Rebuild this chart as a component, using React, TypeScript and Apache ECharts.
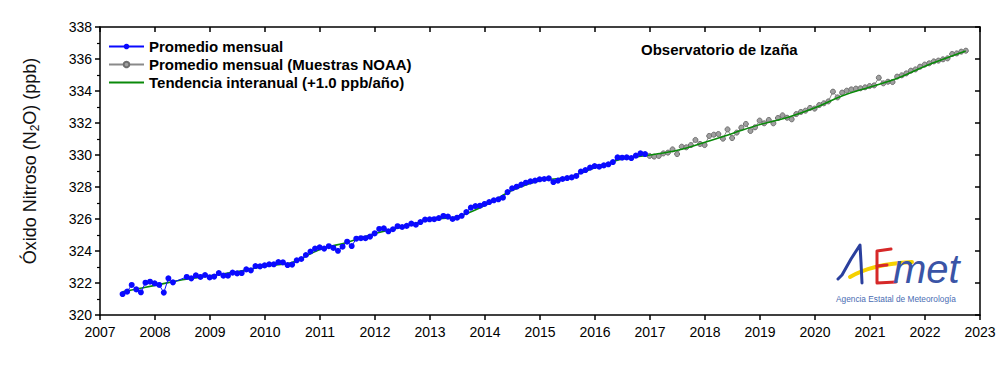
import React, { useEffect, useRef } from "react";
import * as echarts from "echarts";

// ---- Data ----
const xTicks = [2007, 2023];
const yRange = [320, 338];

// Blue: monthly means (first month ~June 2007), one value per month
const blueStart = 2007.41;
const blueValues: (number | null)[] = [
  321.31, 321.46, 321.88, 321.6, 321.42, 322.02, 322.08, 321.98, 321.88, 321.4,
  322.29, 322.04, null, null, 322.38, 322.29, 322.48, 322.38, 322.5, 322.35,
  322.4, 322.62, 322.46, 322.46, 322.65, 322.6, 322.62, 322.85, 322.79, 323.06,
  323.04, 323.1, 323.17, 323.17, 323.31, 323.29, 323.12, 323.15, 323.42, 323.5,
  323.75, 323.97, 324.15, 324.23, 324.15, 324.3, 324.19, 324.01, 324.27, 324.58,
  324.31, 324.77, 324.8, 324.8, 324.9, 325.1, 325.38, 325.42, 325.23, 325.36,
  325.55, 325.5, 325.57, 325.71, 325.64, 325.81, 325.96, 325.98, 325.99, 326.06,
  326.19, 326.15, 326.0, 326.08, 326.2, 326.43, 326.71, 326.81, 326.83, 326.94,
  327.06, 327.17, 327.23, 327.33, 327.68, 327.92, 328.02, 328.15, 328.27, 328.35,
  328.4, 328.48, 328.5, 328.54, 328.31, 328.4, 328.5, 328.56, 328.6, 328.69,
  328.96, 329.06, 329.21, 329.31, 329.27, 329.35, 329.42, 329.56, 329.85, 329.83,
  329.85, 329.81, 329.96, 330.1, 330.06,
];

// Gray: monthly means from NOAA samples (first month ~Jan 2017)
const grayStart = 2016.993;
const grayValues: number[] = [
  329.94, 329.9, 329.94, 330.1, 330.15, 330.35, 330.06, 330.52, 330.48, 330.62,
  330.94, 330.69, 330.62, 331.19, 331.27, 331.31, 331.02, 331.6, 331.06, 331.4,
  331.71, 331.94, 331.5, 331.73, 332.15, 331.98, 332.19, 331.98, 332.31, 332.48,
  332.33, 332.23, 332.56, 332.69, 332.77, 332.94, 332.9, 333.12, 333.23, 333.35,
  333.96, 333.6, 333.9, 334.02, 334.1, 334.15, 334.17, 334.23, 334.31, 334.35,
  334.83, 334.48, 334.58, 334.56, 334.9, 334.98, 335.1, 335.27, 335.35, 335.52,
  335.65, 335.73, 335.85, 335.9, 335.98, 336.04, 336.31, 336.35, 336.46, 336.52,
];

// Green: interannual trend
const trendYears = [
  2007.41, 2008.0, 2008.5, 2009.0, 2009.5, 2010.0, 2010.5, 2011.0, 2011.5, 2012.0,
  2012.5, 2013.0, 2013.5, 2014.0, 2014.5, 2015.0, 2015.5, 2016.0, 2016.5, 2017.0,
  2017.5, 2018.0, 2018.5, 2019.0, 2019.5, 2020.0, 2020.5, 2021.0, 2021.5, 2022.0,
  2022.5, 2022.74,
];
const trendValues = [
  321.45, 321.85, 322.2, 322.45, 322.72, 323.05, 323.3, 324.1, 324.55, 325.1,
  325.5, 325.95, 326.15, 326.85, 327.8, 328.4, 328.6, 329.2, 329.75, 330.0,
  330.3, 330.8, 331.35, 331.9, 332.35, 332.95, 333.7, 334.25, 334.8, 335.55,
  336.2, 336.5,
];

const seriesNames = [
  "Promedio mensual",
  "Promedio mensual (Muestras NOAA)",
  "Tendencia interanual (+1.0 ppb/año)",
];
const titleText = "Observatorio de Izaña";
const yAxisName = "Óxido Nitroso (N{sub|2}O) (ppb)";
const logoTagline = "Agencia Estatal de Meteorología";

const FONT = "Arial, 'Liberation Sans', Helvetica, sans-serif";

export default function App() {
  const ref = useRef<HTMLDivElement>(null);

  useEffect(() => {
    if (!ref.current) return;
    const chart = echarts.init(ref.current, null, { renderer: "svg" });

    const blueData = blueValues.map((v, i) => [blueStart + i / 12, v]);
    const grayData = grayValues.map((v, i) => [grayStart + i / 12, v]);
    const trendData = trendYears.map((y, i) => [y, trendValues[i]]);

    const axisLineStyle = { color: "#000", width: 1.5 };

    const option: any = {
      animation: false,
      backgroundColor: "#fff",
      textStyle: { fontFamily: FONT },
      title: {
        text: titleText,
        left: 641,
        top: 42,
        padding: 0,
        textStyle: { fontSize: 15, fontWeight: "bold", color: "#000", fontFamily: FONT },
      },
      grid: { left: 100, right: 20, top: 27, bottom: 74, containLabel: false },
      legend: {
        orient: "vertical",
        left: 108,
        top: 39,
        itemWidth: 35,
        itemHeight: 7,
        itemGap: 3,
        selectedMode: false,
        padding: 0,
        data: [
          { name: seriesNames[0] },
          { name: seriesNames[1] },
          { name: seriesNames[2], itemStyle: { color: "rgba(0,0,0,0)", borderWidth: 0 } },
        ],
        textStyle: { fontSize: 15, fontWeight: "bold", color: "#000", fontFamily: FONT },
      },
      xAxis: [
        {
          type: "value",
          min: xTicks[0],
          max: xTicks[1],
          interval: 1,
          position: "bottom",
          axisLine: { show: true, onZero: false, lineStyle: axisLineStyle },
          axisTick: { show: true, inside: false, length: 5, lineStyle: axisLineStyle },
          axisLabel: {
            margin: 10,
            fontSize: 14,
            color: "#000",
            fontFamily: FONT,
            formatter: (v: number) => String(v),
          },
          splitLine: { show: false },
        },
        {
          type: "value",
          min: xTicks[0],
          max: xTicks[1],
          interval: 1,
          position: "top",
          axisLine: { show: true, onZero: false, lineStyle: axisLineStyle },
          axisTick: { show: true, inside: true, length: 5, lineStyle: axisLineStyle },
          axisLabel: { show: false },
          splitLine: { show: false },
        },
      ],
      yAxis: [
        {
          type: "value",
          min: yRange[0],
          max: yRange[1],
          interval: 2,
          position: "left",
          axisLine: { show: true, onZero: false, lineStyle: axisLineStyle },
          axisTick: { show: true, inside: false, length: 5, lineStyle: axisLineStyle },
          minorTick: { show: true, splitNumber: 2, length: 3, lineStyle: { color: "#000", width: 1.2 } },
          axisLabel: { margin: 8, fontSize: 14, color: "#000", fontFamily: FONT },
          splitLine: { show: false },
        },
        {
          type: "value",
          min: yRange[0],
          max: yRange[1],
          interval: 2,
          position: "right",
          axisLine: { show: true, onZero: false, lineStyle: axisLineStyle },
          axisTick: { show: true, inside: true, length: 5, lineStyle: axisLineStyle },
          axisLabel: { show: false },
          splitLine: { show: false },
        },
      ],
      series: [
        {
          name: seriesNames[0],
          type: "line",
          data: blueData,
          connectNulls: true,
          symbol: "circle",
          symbolSize: 6,
          showSymbol: true,
          z: 4,
          itemStyle: { color: "#0a0aff" },
          lineStyle: { color: "#0a0aff", width: 1 },
        },
        {
          name: seriesNames[1],
          type: "line",
          data: grayData,
          symbol: "circle",
          symbolSize: 5,
          showSymbol: true,
          z: 2,
          itemStyle: { color: "#a0a0a0", borderColor: "#6e6e6e", borderWidth: 1 },
          lineStyle: { color: "#8a8a8a", width: 1 },
        },
        {
          name: seriesNames[2],
          type: "line",
          data: trendData,
          smooth: 0.4,
          symbol: "none",
          z: 3,
          itemStyle: { color: "#0a8a0a" },
          lineStyle: { color: "#0a8a0a", width: 1.6 },
        },
      ],
      graphic: [
        {
          type: "text",
          x: 30,
          y: 161,
          rotation: Math.PI / 2,
          style: {
            text: yAxisName,
            fill: "#111",
            font: `18px ${FONT}`,
            align: "center",
            verticalAlign: "middle",
            rich: {
              sub: { fontSize: 12, fontFamily: FONT, fill: "#111", padding: [10, 0, 0, 0] },
            },
          },
        },
        // AEMET logo
        {
          type: "bezierCurve",
          shape: { x1: 850, y1: 277, cpx1: 872, cpy1: 264, x2: 912, y2: 262 },
          style: { stroke: "#f5d000", lineWidth: 4, fill: "none", lineCap: "round" },
          z: 10,
        },
        {
          type: "polyline",
          shape: { points: [[838, 279], [842, 275], [851, 259], [860, 245], [861, 262], [862, 283]] },
          style: { stroke: "#2a3f9d", lineWidth: 3, fill: "none", lineCap: "round", lineJoin: "round" },
          z: 11,
        },
        {
          type: "polyline",
          shape: { points: [[891, 249], [877, 251], [877, 283], [896, 282]] },
          style: { stroke: "#d62828", lineWidth: 3, fill: "none", lineCap: "round", lineJoin: "round" },
          z: 11,
        },
        {
          type: "line",
          shape: { x1: 877, y1: 266, x2: 887, y2: 265 },
          style: { stroke: "#d62828", lineWidth: 3, lineCap: "round" },
          z: 11,
        },
        {
          type: "text",
          x: 893,
          y: 269,
          style: {
            text: "met",
            fill: "#3a54a6",
            font: `italic 40px ${FONT}`,
            align: "left",
            verticalAlign: "middle",
          },
          z: 11,
        },
        {
          type: "text",
          x: 836,
          y: 299,
          style: {
            text: logoTagline,
            fill: "#4a6db3",
            font: `8.3px 'Liberation Sans Narrow', ${FONT}`,
            align: "left",
            verticalAlign: "middle",
          },
          z: 11,
        },
      ],
    };

    chart.setOption(option);
    return () => chart.dispose();
  }, []);

  return (
    <div
      ref={ref}
      style={{ position: "absolute", left: 0, top: 0, width: 1000, height: 389 }}
    />
  );
}
